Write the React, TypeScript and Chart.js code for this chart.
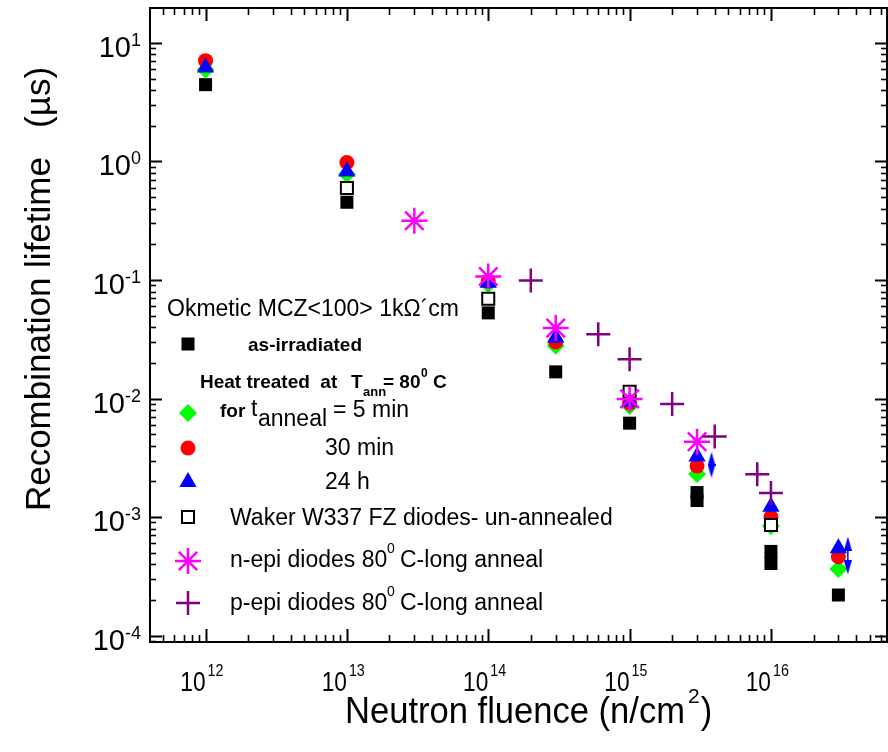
import React, { useEffect, useRef } from 'react';
import { Chart, registerables } from 'chart.js';
import { drawPoint } from 'chart.js/helpers';

Chart.register(...registerables);

// Recombination lifetime (µs) versus neutron fluence (n/cm²)
const FLUENCE_AS_IRR = [1e12, 1e13, 1e14, 3e14, 1e15, 3e15, 3e15, 1e16, 1e16, 3e16];
const TAU_AS_IRR = [4.45, 0.453, 0.0528, 0.0168, 0.0062, 0.00161, 0.00138, 0.000513, 0.000406, 0.00022];

const FLUENCE_ANNEAL = [1e12, 1e13, 1e14, 3e14, 1e15, 3e15, 1e16, 3e16];
const TAU_5MIN = [5.94, 0.78, 0.092, 0.0279, 0.00867, 0.00231, 0.00084, 0.000365];
const TAU_30MIN = [7.09, 0.98, 0.098, 0.03, 0.0092, 0.0027, 0.001, 0.000463];
const TAU_24H = [6.22, 0.824, 0.095, 0.0325, 0.0094, 0.00324, 0.00122, 0.000545];

const FLUENCE_WAKER = [1e13, 1e14, 1e15, 1e16];
const TAU_WAKER = [0.597, 0.0694, 0.0114, 0.000857];

const FLUENCE_NEPI = [3e13, 1e14, 3e14, 1e15, 3e15];
const TAU_NEPI = [0.316, 0.107, 0.0393, 0.00993, 0.00433];

const FLUENCE_PEPI = [2e14, 6e14, 1e15, 2e15, 4e15, 8e15, 1e16];
const TAU_PEPI = [0.099, 0.0349, 0.0215, 0.009, 0.00478, 0.0023, 0.0016];

// 24 h range markers (upper / lower pairs)
const FLUENCE_24H_RANGE = [3.8e15, 3.8e15, 3.5e16, 3.5e16];
const TAU_24H_RANGE = [0.0031, 0.00245, 0.000598, 0.000376];

const X_DECADES = [12, 13, 14, 15, 16];
const Y_DECADES = [1, 0, -1, -2, -3, -4];

const X_MIN = Math.pow(10, 11.607);
const X_MAX = Math.pow(10, 16.821);
const Y_MIN = Math.pow(10, -4.054);
const Y_MAX = Math.pow(10, 1.295);

const FONT = '"Liberation Sans", Arial, Helvetica, sans-serif';

const pts = (xs: number[], ys: number[]) => xs.map((x, i) => ({ x, y: ys[i] }));

function rangePoints() {
  const out: { x: number; y: number | null }[] = [];
  for (let i = 0; i < FLUENCE_24H_RANGE.length; i += 2) {
    if (i > 0) out.push({ x: FLUENCE_24H_RANGE[i], y: null });
    out.push({ x: FLUENCE_24H_RANGE[i], y: TAU_24H_RANGE[i] });
    out.push({ x: FLUENCE_24H_RANGE[i + 1], y: TAU_24H_RANGE[i + 1] });
  }
  return out;
}

function arrowHead(): HTMLCanvasElement {
  const c = document.createElement('canvas');
  c.width = 8;
  c.height = 14;
  const g = c.getContext('2d')!;
  g.fillStyle = '#0000ff';
  g.beginPath();
  g.moveTo(4, 0);
  g.lineTo(8, 14);
  g.lineTo(0, 14);
  g.closePath();
  g.fill();
  return c;
}

function put(ctx: CanvasRenderingContext2D, s: string, x: number, y: number, size: number, bold = false, sx = 1) {
  ctx.save();
  ctx.font = `${bold ? 'bold ' : ''}${size}px ${FONT}`;
  ctx.textBaseline = 'alphabetic';
  ctx.textAlign = 'left';
  ctx.translate(x, y);
  ctx.scale(sx, 1);
  ctx.fillText(s, 0, 0);
  const w = ctx.measureText(s).width * sx;
  ctx.restore();
  return w;
}

function width(ctx: CanvasRenderingContext2D, s: string, size: number, bold = false, sx = 1) {
  ctx.save();
  ctx.font = `${bold ? 'bold ' : ''}${size}px ${FONT}`;
  const w = ctx.measureText(s).width * sx;
  ctx.restore();
  return w;
}

const axesPlugin = {
  id: 'logFrame',
  afterDraw(chart: any) {
    const ctx: CanvasRenderingContext2D = chart.ctx;
    const xs = chart.scales.x;
    const ys = chart.scales.y;
    const { left, right, top, bottom } = chart.chartArea;
    ctx.save();
    ctx.strokeStyle = '#000';
    ctx.fillStyle = '#000';

    // inward ticks on all four sides
    const seg = (x1: number, y1: number, x2: number, y2: number, w: number) => {
      ctx.lineWidth = w;
      ctx.beginPath();
      ctx.moveTo(x1, y1);
      ctx.lineTo(x2, y2);
      ctx.stroke();
    };
    for (let e = 11; e <= 17; e++) {
      for (let m = 1; m <= 9; m++) {
        const v = m * Math.pow(10, e);
        if (v < X_MIN || v > X_MAX) continue;
        const px = Math.round(xs.getPixelForValue(v)) + 0.5;
        const len = m === 1 ? 13 : 7;
        seg(px, bottom, px, bottom - len, m === 1 ? 2 : 1.6);
        seg(px, top, px, top + len, m === 1 ? 2 : 1.6);
      }
    }
    for (let e = -5; e <= 2; e++) {
      for (let m = 1; m <= 9; m++) {
        const v = m * Math.pow(10, e);
        if (v < Y_MIN || v > Y_MAX) continue;
        const py = Math.round(ys.getPixelForValue(v)) + 0.5;
        const len = m === 1 ? 12 : 6;
        seg(left, py, left + len, py, m === 1 ? 2 : 1.6);
        seg(right, py, right - len, py, m === 1 ? 2 : 1.6);
      }
    }

    // frame
    ctx.lineWidth = 2;
    ctx.strokeRect(left, top, right - left, bottom - top);

    // y tick labels
    for (const e of Y_DECADES) {
      const py = ys.getPixelForValue(Math.pow(10, e));
      const sup = e < 0 ? '-' + Math.abs(e) : String(e);
      const ws = width(ctx, sup, 18);
      const w10 = width(ctx, '10', 29);
      const xEnd = 141;
      put(ctx, '10', xEnd - ws - w10, py + 14, 29);
      put(ctx, sup, xEnd - ws, py + 3, 18);
    }

    // x tick labels
    for (const e of X_DECADES) {
      const px = xs.getPixelForValue(Math.pow(10, e));
      const w10 = width(ctx, '10', 27, false, 0.84);
      put(ctx, '10', px - w10, 691, 27, false, 0.84);
      put(ctx, String(e), px + 2, 676, 17, false, 0.84);
    }

    // axis titles
    let x = 345;
    x += put(ctx, 'Neutron fluence (n/cm', x, 723, 36, false, 0.96);
    x += put(ctx, '2', x + 3, 703, 21) + 3;
    put(ctx, ')', x + 1, 723, 36, false, 0.96);

    ctx.save();
    ctx.translate(50, 289);
    ctx.rotate(-Math.PI / 2);
    ctx.font = `35px ${FONT}`;
    ctx.textAlign = 'center';
    ctx.textBaseline = 'alphabetic';
    ctx.fillText('Recombination lifetime   (µs)', 0, 0);
    ctx.restore();

    // legend
    const ds = chart.data.datasets;
    const marker = (i: number, y: number) => {
      const d = ds[i];
      ctx.save();
      ctx.fillStyle = d.pointBackgroundColor;
      ctx.strokeStyle = d.pointBorderColor;
      ctx.lineWidth = d.pointBorderWidth;
      drawPoint(ctx, { pointStyle: d.pointStyle, radius: d.pointRadius, rotation: 0, borderWidth: d.pointBorderWidth } as any, 188, y);
      ctx.restore();
    };

    put(ctx, 'Okmetic MCZ<100> 1kΩ´cm', 167, 316, 23);

    marker(0, 344);
    put(ctx, 'as-irradiated', 248, 351, 19, true);

    put(ctx, 'Heat treated  at', 200, 388, 19, true);
    put(ctx, 'T', 351, 388, 19, true);
    put(ctx, 'ann', 363, 396, 13, true);
    put(ctx, '= 80', 383, 388, 19, true);
    put(ctx, '0', 421, 377, 12, true);
    put(ctx, 'C', 433, 388, 19, true);

    marker(1, 413);
    put(ctx, 'for', 220, 417, 19, true);
    put(ctx, 't', 251, 416, 23);
    put(ctx, 'anneal', 258, 426, 23);
    put(ctx, '= 5 min', 333, 417, 23);

    marker(2, 448);
    put(ctx, '30 min', 325, 455, 23);

    marker(4, 482);
    put(ctx, '24 h', 325, 489, 23);

    marker(3, 517);
    put(ctx, 'Waker W337 FZ diodes- un-annealed', 230, 525, 23);

    marker(6, 561);
    put(ctx, 'n-epi diodes 80', 230, 567, 23);
    put(ctx, '0', 387, 553, 14);
    put(ctx, 'C-long anneal', 400, 567, 23);

    marker(7, 603);
    put(ctx, 'p-epi diodes 80', 230, 610, 23);
    put(ctx, '0', 387, 596, 14);
    put(ctx, 'C-long anneal', 400, 610, 23);

    ctx.restore();
  },
};

export default function App() {
  const ref = useRef<HTMLCanvasElement>(null);

  useEffect(() => {
    const head = arrowHead();
    const range = rangePoints();
    const chart = new Chart(ref.current!, {
      type: 'scatter',
      data: {
        datasets: [
          {
            label: 'as-irradiated',
            data: pts(FLUENCE_AS_IRR, TAU_AS_IRR),
            pointStyle: 'rect',
            pointRadius: 9.2,
            pointHoverRadius: 9.2,
            pointBackgroundColor: '#000000',
            pointBorderColor: '#000000',
            pointBorderWidth: 0,
            order: 8,
          },
          {
            label: '5 min',
            data: pts(FLUENCE_ANNEAL, TAU_5MIN),
            pointStyle: 'rectRot',
            pointRadius: 9,
            pointHoverRadius: 9,
            pointBackgroundColor: '#00ff00',
            pointBorderColor: '#00ff00',
            pointBorderWidth: 0,
            order: 7,
          },
          {
            label: '30 min',
            data: pts(FLUENCE_ANNEAL, TAU_30MIN),
            pointStyle: 'circle',
            pointRadius: 7.5,
            pointHoverRadius: 7.5,
            pointBackgroundColor: '#ff0000',
            pointBorderColor: '#ff0000',
            pointBorderWidth: 0,
            order: 6,
          },
          {
            label: 'Waker W337 FZ diodes- un-annealed',
            data: pts(FLUENCE_WAKER, TAU_WAKER),
            pointStyle: 'rect',
            pointRadius: 8.5,
            pointHoverRadius: 8.5,
            pointBackgroundColor: '#ffffff',
            pointBorderColor: '#000000',
            pointBorderWidth: 2,
            order: 5,
          },
          {
            label: '24 h',
            data: pts(FLUENCE_ANNEAL, TAU_24H),
            pointStyle: 'triangle',
            pointRadius: 10,
            pointHoverRadius: 10,
            pointBackgroundColor: '#0000ff',
            pointBorderColor: '#0000ff',
            pointBorderWidth: 0,
            order: 4,
          },
          {
            label: '24 h range',
            data: range as any,
            showLine: true,
            spanGaps: false,
            borderColor: '#0000ff',
            borderWidth: 1.5,
            pointStyle: head as any,
            pointRadius: range.map((p) => (p.y === null ? 0 : 6)),
            pointRotation: range.map((_, i) => (i % 3 === 1 ? 180 : 0)),
            pointBackgroundColor: '#0000ff',
            pointBorderColor: '#0000ff',
            order: 3,
          } as any,
          {
            label: 'n-epi diodes 80 C-long anneal',
            data: pts(FLUENCE_NEPI, TAU_NEPI),
            pointStyle: 'star',
            pointRadius: 13,
            pointHoverRadius: 13,
            pointBackgroundColor: 'rgba(0,0,0,0)',
            pointBorderColor: '#ff00ff',
            pointBorderWidth: 2.5,
            order: 2,
          },
          {
            label: 'p-epi diodes 80 C-long anneal',
            data: pts(FLUENCE_PEPI, TAU_PEPI),
            pointStyle: 'cross',
            pointRadius: 12,
            pointHoverRadius: 12,
            pointBackgroundColor: 'rgba(0,0,0,0)',
            pointBorderColor: '#800080',
            pointBorderWidth: 2.5,
            order: 1,
          },
        ],
      },
      options: {
        responsive: false,
        animation: false,
        events: [],
        layout: { autoPadding: false, padding: { left: 150, top: 8, right: 1, bottom: 110 } },
        scales: {
          x: { type: 'logarithmic', min: X_MIN, max: X_MAX, display: false },
          y: { type: 'logarithmic', min: Y_MIN, max: Y_MAX, display: false },
        },
        plugins: { legend: { display: false }, tooltip: { enabled: false } },
      },
      plugins: [axesPlugin],
    } as any);
    return () => chart.destroy();
  }, []);

  return (
    <div style={{ position: 'absolute', left: 0, top: 0, width: 888, height: 752, background: '#ffffff' }}>
      <canvas ref={ref} width={888} height={752} style={{ display: 'block', width: 888, height: 752 }} />
    </div>
  );
}
